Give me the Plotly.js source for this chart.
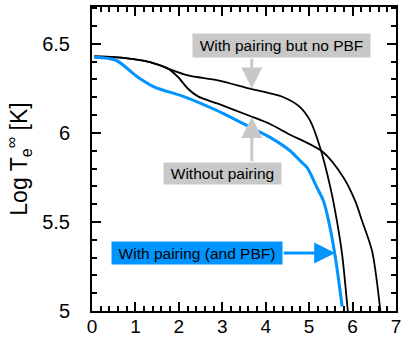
<!DOCTYPE html>
<html><head><meta charset="utf-8">
<script src="https://cdn.plot.ly/plotly-3.0.1.min.js"></script>
<style>html,body{margin:0;padding:0;background:#fff}#chart{width:402px;height:339px}</style>
</head><body><div id="chart"></div>
<script>
// With pairing but no PBF
const xNoPBF = [0.05, 0.67, 1.21, 1.5, 1.75, 2.21, 2.9, 3.64, 4.1, 4.41, 4.79, 5.02, 5.25, 5.49, 5.64, 5.76, 5.89];
const yNoPBF = [6.43, 6.423, 6.404, 6.385, 6.361, 6.323, 6.295, 6.248, 6.222, 6.2, 6.145, 6.07, 5.92, 5.693, 5.505, 5.317, 5.0];
// Without pairing
const xNoPair = [0.05, 0.67, 1.21, 1.5, 1.75, 1.98, 2.21, 2.44, 2.9, 3.64, 4.1, 4.41, 4.56, 5.31, 5.79, 6.06, 6.22, 6.45, 6.64];
const yNoPair = [6.43, 6.423, 6.404, 6.385, 6.361, 6.314, 6.248, 6.205, 6.164, 6.095, 6.05, 6.01, 5.99, 5.894, 5.75, 5.618, 5.505, 5.336, 5.0];
// With pairing (and PBF)
const xPBF = [0.05, 0.55, 1.05, 1.44, 2.1, 2.87, 3.64, 4.1, 4.56, 4.79, 4.95, 5.18, 5.33, 5.45, 5.6, 5.76];
const yPBF = [6.425, 6.408, 6.314, 6.257, 6.205, 6.126, 6.032, 5.975, 5.9, 5.844, 5.806, 5.693, 5.618, 5.505, 5.307, 5.025];

const labels = ["With pairing but no PBF", "Without pairing", "With pairing (and PBF)"];
const blue = '#0094ff';
const grey = '#c8c8c8';

const traces = [
  {x: xNoPBF, y: yNoPBF, mode: 'lines', line: {color: '#000', width: 1.8, shape: 'spline', smoothing: 0.8}},
  {x: xNoPair, y: yNoPair, mode: 'lines', line: {color: '#000', width: 1.8, shape: 'spline', smoothing: 0.8}},
  {x: xPBF, y: yPBF, mode: 'lines', line: {color: blue, width: 3, shape: 'spline', smoothing: 0.8}}
];

const font = {family: 'Liberation Sans, Arial, sans-serif', color: '#000'};
const axisCommon = {
  showgrid: false, zeroline: false, showline: true, linecolor: '#000', linewidth: 2,
  mirror: 'allticks', ticks: 'inside', ticklen: 9, tickwidth: 2, tickcolor: '#000',
  tickfont: Object.assign({size: 20}, font)
};

const layout = {
  width: 402, height: 339,
  margin: {l: 92, r: 6, t: 7, b: 28},
  paper_bgcolor: '#fff', plot_bgcolor: '#fff',
  showlegend: false,
  xaxis: Object.assign({}, axisCommon, {range: [0, 7], dtick: 1, ticklabelstandoff: -3,
    tickfont: Object.assign({size: 19}, font),
    minor: {dtick: 0.2, ticks: 'inside', ticklen: 5, tickwidth: 2, tickcolor: '#000'}}),
  yaxis: Object.assign({}, axisCommon, {range: [5, 6.707], tickvals: [5, 5.5, 6, 6.5], ticktext: ['5', '5.5', '6', '6.5'],
    ticklabelstandoff: 16,
    minor: {dtick: 0.1, ticks: 'inside', ticklen: 5, tickwidth: 2, tickcolor: '#000'},
    title: {text: 'Log T<sub>e</sub><sup>∞</sup> [K]', font: Object.assign({size: 23}, font), standoff: 8}}),
  annotations: [
    // arrows
    {x: 3.68, y: 6.25, ax: 3.68, ay: 6.425, xref: 'x', yref: 'y', axref: 'x', ayref: 'y', text: '', showarrow: true,
     arrowhead: 2, arrowsize: 1.4, arrowwidth: 3, arrowcolor: grey},
    {x: 3.68, y: 6.09, ax: 3.68, ay: 5.832, xref: 'x', yref: 'y', axref: 'x', ayref: 'y', text: '', showarrow: true,
     arrowhead: 2, arrowsize: 1.4, arrowwidth: 3, arrowcolor: grey},
    {x: 5.6, y: 5.326, ax: 4.38, ay: 5.326, xref: 'x', yref: 'y', axref: 'x', ayref: 'y', text: '', showarrow: true,
     arrowhead: 2, arrowsize: 1.4, arrowwidth: 3, arrowcolor: blue},
    // text boxes
    {x: 4.366, y: 6.49, xref: 'x', yref: 'y', text: labels[0], showarrow: false, bgcolor: grey,
     width: 177, height: 23, borderpad: 0, font: Object.assign({size: 15.5}, font)},
    {x: 3.005, y: 5.773, xref: 'x', yref: 'y', text: labels[1], showarrow: false, bgcolor: grey,
     width: 117, height: 21, borderpad: 0, font: Object.assign({size: 15.5}, font)},
    {x: 2.416, y: 5.3245, xref: 'x', yref: 'y', text: labels[2], showarrow: false, bgcolor: blue,
     width: 170, height: 22, borderpad: 0, font: Object.assign({size: 15.5}, font)}
  ]
};

Plotly.newPlot('chart', traces, layout, {displayModeBar: false, staticPlot: true});
</script></body></html>
